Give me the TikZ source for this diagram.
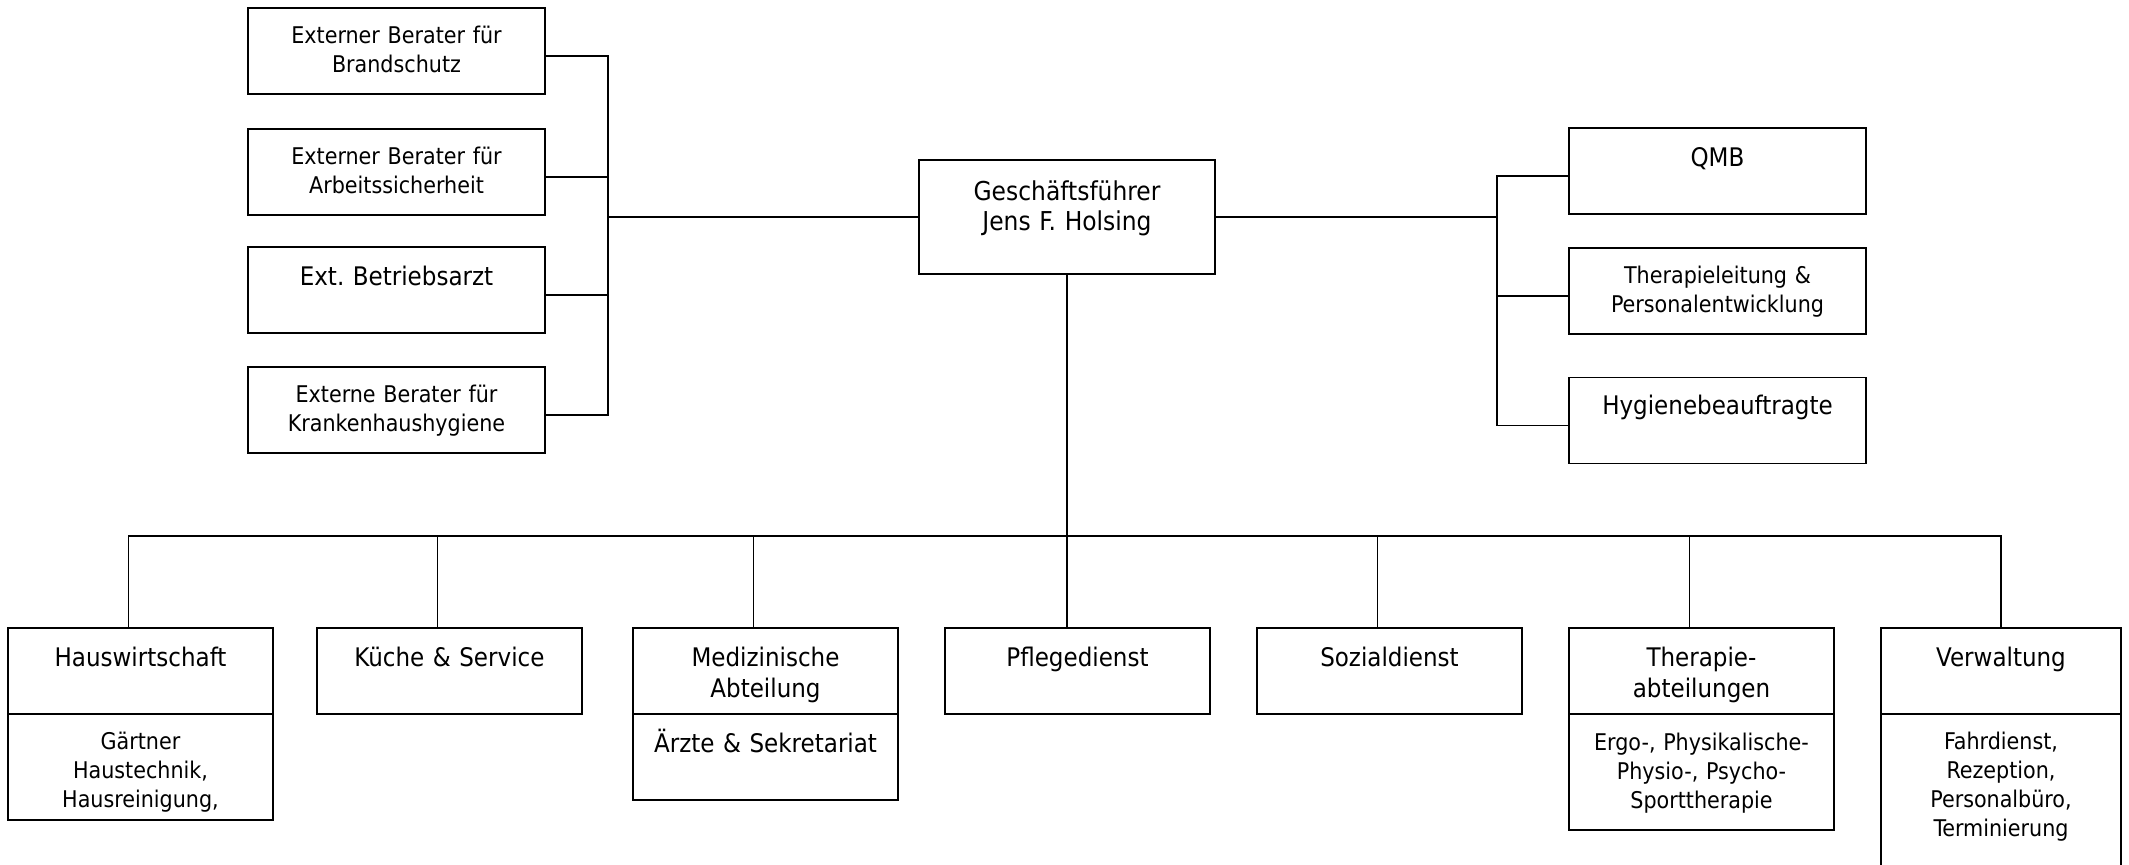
\documentclass[tikz,border=0pt]{standalone}
\usepackage{fontspec}
\setmainfont{DejaVu Sans Condensed}
\usetikzlibrary{calc}
\frenchspacing
\newcommand\orgsmall{\fontsize{11.5}{14.5}\selectfont}
\newcommand\orghead{\fontsize{12.8}{15.5}\selectfont}
\newcommand\orgboss{\fontsize{13}{15.3}\selectfont}

\begin{document}
\begin{tikzpicture}[x=0.5pt, y=-0.5pt,
    box/.style={draw, line width=0.9pt, inner sep=0pt, outer sep=0pt, minimum width=148.5pt, minimum height=43pt},
    unit/.style={box, minimum width=132.5pt},
    txt/.style={anchor=base, inner sep=0pt, align=center, text width=140pt, font=\orgsmall},
    head/.style={txt, font=\orghead},
    line/.style={line width=0.9pt}]
	%%%%% FRAME %%%%%
	\useasboundingbox (0,0) rectangle (2129,864);
	\clip (0,0) rectangle (2129,864);
	
	%%%%% BOSS %%%%%
	\node[box, minimum width=148pt, minimum height=57pt] (gf) at (1067,217) {};
	\node[txt, font=\orgboss] (gft) at ([yshift=-20pt]gf.north) {Geschäftsführer\\Jens F. Holsing};
	
	%%%%% EXTERNAL ADVISORS %%%%%
	\node[box] (ber1) at (396.5,51) {};
	\node[box] (ber2) at (396.5,172) {};
	\node[box] (ber3) at (396.5,290) {};
	\node[box] (ber4) at (396.5,410) {};
	\node[txt] (ber1t) at ([yshift=-17.5pt]ber1.north) {Externer Berater für\\Brandschutz};
	\node[txt] (ber2t) at ([yshift=-17.5pt]ber2.north) {Externer Berater für\\Arbeitssicherheit};
	\node[head] (ber3t) at ([yshift=-19pt]ber3.north) {Ext. Betriebsarzt};
	\node[txt] (ber4t) at ([yshift=-17.5pt]ber4.north) {Externe Berater für\\Krankenhaushygiene};
	
	%%%%% STAFF %%%%%
	\node[box] (qmb) at (1717.5,171) {};
	\node[box] (thl) at (1717.5,291) {};
	\node[box] (hyg) at (1717.5,420.5) {};
	\node[head] (qmbt) at ([yshift=-19pt]qmb.north) {QMB};
	\node[txt] (thlt) at ([yshift=-17.5pt]thl.north) {Therapieleitung \&\\Personalentwicklung};
	\node[head] (hygt) at ([yshift=-18.5pt]hyg.north) {Hygienebeauftragte};
	
	%%%%% DEPARTMENTS %%%%%
	\node[unit] (hw) at (140.5,671) {};
	\node[unit] (kue) at (449.5,671) {};
	\node[unit] (med) at (765.5,671) {};
	\node[unit] (pd) at (1077.5,671) {};
	\node[unit] (sd) at (1389.5,671) {};
	\node[unit] (the) at (1701.5,671) {};
	\node[unit, minimum width=120pt] (vw) at (2001,671) {};
	
	\node[unit, anchor=north, minimum height=53pt] (hwsub) at (hw.south) {};
	\node[unit, anchor=north, minimum height=43pt] (medsub) at (med.south) {};
	\node[unit, anchor=north, minimum height=58pt] (thesub) at (the.south) {};
	\node[unit, anchor=north, minimum width=120pt, minimum height=85pt] (vwsub) at (vw.south) {};
	
	\node[head] (hwt) at ([yshift=-19pt]hw.north) {Hauswirtschaft};
	\node[head] (kuet) at ([yshift=-19pt]kue.north) {Küche \& Service};
	\node[head] (medt) at ([yshift=-19pt]med.north) {Medizinische\\Abteilung};
	\node[head] (pdt) at ([yshift=-19pt]pd.north) {Pflegedienst};
	\node[head] (sdt) at ([yshift=-19pt]sd.north) {Sozialdienst};
	\node[head] (thet) at ([yshift=-19pt]the.north) {Therapie-\\abteilungen};
	\node[head] (vwt) at ([yshift=-19pt]vw.north) {Verwaltung};
	
	\node[txt] (hwsubt) at ([yshift=-17.5pt]hwsub.north) {Gärtner\\Haustechnik,\\Hausreinigung,};
	\node[head] (medsubt) at ([yshift=-19pt]medsub.north) {Ärzte \& Sekretariat};
	\node[txt] (thesubt) at ([yshift=-18pt]thesub.north) {Ergo-, Physikalische-\\Physio-, Psycho-\\Sporttherapie};
	\node[txt] (vwsubt) at ([yshift=-17.5pt]vwsub.north) {Fahrdienst,\\Rezeption,\\Personalbüro,\\Terminierung};
	
	%%%%% LINES %%%%%
	\coordinate (lbus) at (608,217);
	\coordinate (rbus) at (1497,217);
	\coordinate (bus) at (1067,536);
	
	\draw[line] (gf.west) -- (lbus);
	\foreach \b in {ber1,ber2,ber3,ber4}
		\draw[line] ([yshift=-2.5pt]\b.east) -| (lbus);
	
	\draw[line] (gf.east) -- (rbus);
	\foreach \b in {qmb,thl,hyg}
		\draw[line] ([yshift=-2.5pt]\b.west) -| (rbus);
	
	\draw[line] (gf.south) -- (gf.south |- pd.north);
	\foreach \u in {hw,kue,med,sd,the}
		\draw[line] ([xshift=-6pt]\u.north) |- (bus);
	\draw[line] (vw.north) |- (bus);
	
\end{tikzpicture}
\end{document}
